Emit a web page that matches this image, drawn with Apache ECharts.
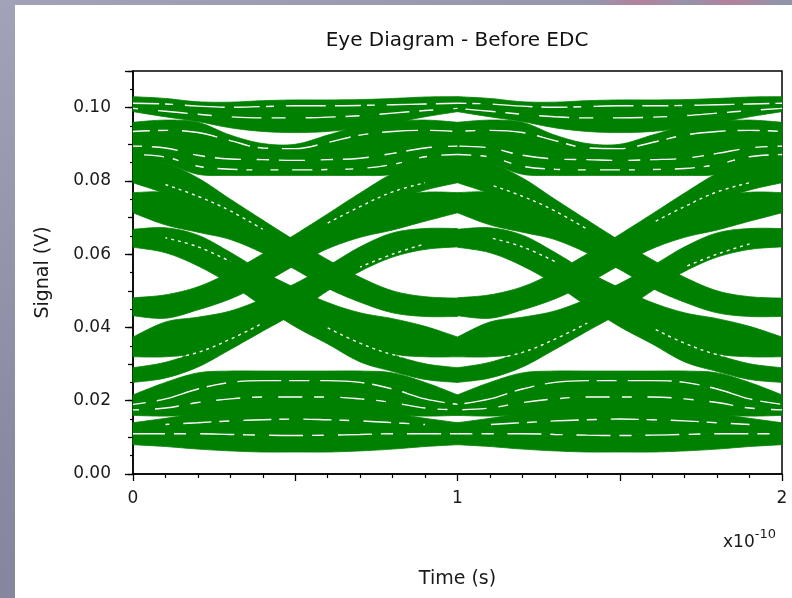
<!DOCTYPE html>
<html><head><meta charset="utf-8">
<script src="https://cdn.jsdelivr.net/npm/echarts@6/dist/echarts.min.js"></script>
<style>
html,body{margin:0;padding:0;width:792px;height:598px;overflow:hidden;}
body{background:
  radial-gradient(circle at 640px 0px, rgba(185,125,150,0.85) 0, rgba(185,125,150,0) 45px),
  radial-gradient(circle at 730px 0px, rgba(185,125,150,0.85) 0, rgba(185,125,150,0) 45px),
  linear-gradient(160deg,#a2a2b8 0%,#8a8aa2 50%,#7e7e98 100%);}
#panel{position:absolute;left:15px;top:5px;width:777px;height:593px;background:#fff;}
#chart{position:absolute;left:0;top:0;width:792px;height:598px;}
</style>
</head><body><div id="panel"></div><div id="chart"></div>
<script>
// ---- data (time in units of 1e-10 s, signal in V) ----
const tSamples = [0, 0.1, 0.2, 0.3, 0.4, 0.5, 0.6, 0.7, 0.8, 0.9, 1.0];   // one bit period
const periods = [0, 1];                                                   // two periods shown
const xTickLabels = ['0', '1', '2'];
const yTickLabels = ['0.00', '0.02', '0.04', '0.06', '0.08', '0.10'];

// flat "1" traces
const H1_upper = [0.1030,0.1025,0.1016,0.1015,0.1019,0.1021,0.1021,0.1022,0.1025,0.1029,0.1030];
const H1_lower = [0.0989,0.0975,0.0962,0.0945,0.0935,0.0932,0.0935,0.0945,0.0958,0.0975,0.0989];
const H2_upper = [0.0960,0.0966,0.0960,0.0925,0.0902,0.0900,0.0925,0.0950,0.0962,0.0966,0.0960];
const H2_lower = [0.0860,0.0848,0.0818,0.0815,0.0815,0.0815,0.0815,0.0815,0.0818,0.0848,0.0860];
// falling traces (outer)
const Da_upper = [0.0860,0.0848,0.0808,0.0750,0.0693,0.0637,0.0585,0.0537,0.0500,0.0484,0.0480];
const Da_lower = [0.0795,0.0766,0.0735,0.0697,0.0652,0.0602,0.0553,0.0512,0.0478,0.0462,0.0456];
const Db_upper = [0.0768,0.0769,0.0748,0.0706,0.0657,0.0606,0.0556,0.0515,0.0481,0.0466,0.0461];
const Db_lower = [0.0713,0.0680,0.0660,0.0640,0.0603,0.0558,0.0507,0.0469,0.0440,0.0430,0.0430];
// rising traces (inner)
const Ria_upper = [0.0481,0.0489,0.0511,0.0551,0.0601,0.0654,0.0710,0.0767,0.0820,0.0852,0.0860];
const Ria_lower = [0.0458,0.0467,0.0488,0.0524,0.0568,0.0617,0.0666,0.0708,0.0744,0.0775,0.0795];
const Rib_upper = [0.0463,0.0471,0.0491,0.0527,0.0571,0.0621,0.0672,0.0719,0.0754,0.0769,0.0768];
const Rib_lower = [0.0432,0.0425,0.0448,0.0478,0.0520,0.0570,0.0615,0.0646,0.0666,0.0690,0.0713];
// rising traces (outer)
const Ra_upper = [0.0374,0.0415,0.0428,0.0445,0.0478,0.0520,0.0568,0.0620,0.0658,0.0670,0.0670];
const Ra_lower = [0.0320,0.0320,0.0330,0.0362,0.0405,0.0458,0.0516,0.0568,0.0603,0.0622,0.0630];
const Rb_upper = [0.0290,0.0305,0.0335,0.0376,0.0425,0.0478,0.0535,0.0586,0.0617,0.0633,0.0640];
const Rb_lower = [0.0250,0.0262,0.0292,0.0340,0.0390,0.0440,0.0500,0.0553,0.0592,0.0613,0.0620];
// falling traces (inner)
const Dia_upper = [0.0668,0.0672,0.0652,0.0605,0.0552,0.0508,0.0468,0.0440,0.0424,0.0403,0.0374];
const Dia_lower = [0.0628,0.0616,0.0593,0.0552,0.0499,0.0442,0.0392,0.0352,0.0327,0.0320,0.0320];
const Dib_upper = [0.0638,0.0628,0.0603,0.0563,0.0510,0.0452,0.0401,0.0363,0.0326,0.0301,0.0290];
const Dib_lower = [0.0619,0.0604,0.0568,0.0518,0.0458,0.0402,0.0355,0.0306,0.0280,0.0258,0.0250];
// flat "0" traces
const L1_upper = [0.0216,0.0250,0.0276,0.0281,0.0281,0.0281,0.0281,0.0281,0.0276,0.0250,0.0216];
const L1_lower = [0.0160,0.0158,0.0162,0.0165,0.0165,0.0163,0.0165,0.0165,0.0162,0.0158,0.0160];
const L2_upper = [0.0140,0.0152,0.0165,0.0172,0.0175,0.0175,0.0175,0.0172,0.0165,0.0152,0.0140];
const L2_lower = [0.0080,0.0075,0.0068,0.0063,0.0060,0.0060,0.0060,0.0063,0.0068,0.0075,0.0080];

// gaps between individual traces (white streaks)
const gapA = [0.1012,0.1010,0.1004,0.1001,0.1003,0.1005,0.1005,0.1006,0.1008,0.1010,0.1012];
const gapA2 = [0.0998,0.0990,0.0982,0.0975,0.0972,0.0972,0.0974,0.0978,0.0985,0.0992,0.0998];
const gapB = [0.0935,0.0938,0.0932,0.0910,0.0890,0.0888,0.0905,0.0925,0.0935,0.0938,0.0935];
const gapC = [0.0895,0.0890,0.0870,0.0860,0.0858,0.0856,0.0858,0.0862,0.0875,0.0890,0.0895];
const gapC2 = [0.0872,0.0865,0.0840,0.0832,0.0830,0.0830,0.0831,0.0834,0.0845,0.0866,0.0872];
const gapD = [0.0190,0.0205,0.0232,0.0250,0.0255,0.0255,0.0255,0.0250,0.0232,0.0205,0.0190];
const gapD2 = [0.0175,0.0180,0.0195,0.0205,0.0210,0.0210,0.0210,0.0205,0.0195,0.0180,0.0175];
const gapE = [0.0110,0.0110,0.0110,0.0108,0.0106,0.0105,0.0106,0.0108,0.0110,0.0110,0.0110];
const gapF = [null,0.0135,0.0140,0.0145,0.0148,0.0150,0.0148,0.0145,0.0140,0.0135,null];
const gapG = [null,0.0790,0.0758,0.0718,0.0668,null,null,null,null,null,null];
const gapH = [null,null,null,null,null,null,0.0685,0.0730,0.0770,0.0795,null];
const gapI = [null,0.0312,0.0332,0.0368,0.0412,null,null,null,null,null,null];
const gapJ = [null,null,null,null,null,null,0.0399,0.0357,0.0326,0.0310,null];
const gapK = [null,0.0645,0.0620,0.0580,null,null,null,null,null,null,null];
const gapL = [null,null,null,null,null,null,null,0.0565,0.0600,0.0628,null];

// ---- build ----
const GREEN = '#008000';
const bandList = [
  [H1_upper,H1_lower],[H2_upper,H2_lower],
  [Da_upper,Da_lower],[Db_upper,Db_lower],
  [Ria_upper,Ria_lower],[Rib_upper,Rib_lower],
  [Ra_upper,Ra_lower],[Rb_upper,Rb_lower],
  [Dia_upper,Dia_lower],[Dib_upper,Dib_lower],
  [L1_upper,L1_lower],[L2_upper,L2_lower]
];
const gapList = [
  [gapA,[26,6,8,12,40,9],0],[gapA2,[14,20,30,10],9],[gapB,[22,8,10,14,36,12],5],[gapC,[12,10,26,16],3],
  [gapC2,[8,14,20,9,6,18],11],[gapD,[20,11,44,8],7],[gapD2,[10,16,24,12],4],[gapE,[34,9,12,14],2],[gapF,[10,14,28,8],6],
  [gapG,[3,4],0],[gapH,[3,4],0],[gapI,[3,4],0],[gapJ,[3,4],0],[gapK,[3,4],1],[gapL,[3,4],1]
];

function catmull(pts, steps) {
  const out = [];
  const n = pts.length;
  for (let i = 0; i < n - 1; i++) {
    const p0 = pts[Math.max(i - 1, 0)], p1 = pts[i], p2 = pts[i + 1], p3 = pts[Math.min(i + 2, n - 1)];
    for (let s = 0; s < steps; s++) {
      const u = s / steps, u2 = u * u, u3 = u2 * u;
      const f = k => 0.5 * (2 * p1[k] + (-p0[k] + p2[k]) * u + (2 * p0[k] - 5 * p1[k] + 4 * p2[k] - p3[k]) * u2 + (-p0[k] + 3 * p1[k] - 3 * p2[k] + p3[k]) * u3);
      out.push([f(0), f(1)]);
    }
  }
  out.push(pts[n - 1]);
  return out;
}

const bandData = [];
bandList.forEach((b, i) => periods.forEach(p => bandData.push([i, p])));

const series = [{
  type: 'custom',
  coordinateSystem: 'cartesian2d',
  xAxisIndex: 0, yAxisIndex: 0,
  silent: true,
  z: 2,
  data: bandData,
  encode: { x: -1, y: -1 },
  renderItem: function (params, api) {
    const b = bandList[api.value(0)];
    const p = api.value(1);
    const up = tSamples.map((t, k) => api.coord([t + p, b[0][k]]));
    const lo = tSamples.map((t, k) => api.coord([t + p, b[1][k]]));
    const pts = catmull(up, 8).concat(catmull(lo, 8).reverse());
    return { type: 'polygon', shape: { points: pts }, style: { fill: GREEN, stroke: GREEN, lineWidth: 0.8 } };
  }
}];
gapList.forEach(g => periods.forEach(p => {
  series.push({
    type: 'line', silent: true, z: 3, symbol: 'none', smooth: 0.4, connectNulls: false,
    xAxisIndex: 0, yAxisIndex: 0,
    data: tSamples.map((t, k) => [t + p, g[0][k]]),
    lineStyle: { color: '#ffffff', width: 1.4, type: g[1], dashOffset: g[2] + p * 17 }
  });
}));

const FONT = 'DejaVu Sans';
const chart = echarts.init(document.getElementById('chart'), null, { renderer: 'canvas' });
chart.setOption({
  animation: false,
  backgroundColor: 'transparent',
  grid: { left: 133, right: 10, top: 71, bottom: 124, show: true, borderColor: '#000', borderWidth: 1.5, backgroundColor: 'transparent' },
  graphic: [
    { type: 'text', x: 457, y: 31, style: { text: 'Eye Diagram - Before EDC', font: '20px "DejaVu Sans"', fill: '#111', textAlign: 'center' } },
    { type: 'text', x: 723, y: 528, style: { text: '{b|x10}{s|-10}', rich: { b: { fontFamily: FONT, fontSize: 17, fill: '#1a1a1a', verticalAlign: 'bottom' }, s: { fontFamily: FONT, fontSize: 13, fill: '#1a1a1a', padding: [0, 0, 10, 0] } } } }
  ],
  xAxis: [{
    type: 'value', min: 0, max: 2, interval: 0.5,
    axisLine: { show: true, onZero: false, lineStyle: { color: '#000', width: 1.5 } },
    axisTick: { show: true, length: 7, lineStyle: { color: '#000', width: 1.3 } },
    minorTick: { show: true, splitNumber: 5, length: 4, lineStyle: { color: '#000', width: 1.2 } },
    splitLine: { show: false }, minorSplitLine: { show: false },
    axisLabel: { margin: 16, fontFamily: FONT, fontSize: 17, color: '#1a1a1a',
      formatter: v => (Math.abs(v - Math.round(v)) < 1e-9 ? (xTickLabels[Math.round(v)] || '') : '') },
    name: 'Time (s)', nameLocation: 'middle', nameGap: 96,
    nameTextStyle: { fontFamily: FONT, fontSize: 19, color: '#1a1a1a' }
  }],
  yAxis: [{
    type: 'value', min: 0, max: 0.11, interval: 0.01, position: 'left',
    axisLine: { show: true, onZero: false, lineStyle: { color: '#000', width: 1.5 } },
    axisTick: { show: true, length: 5, lineStyle: { color: '#000', width: 1.3 } },
    minorTick: { show: true, splitNumber: 2, length: 3, lineStyle: { color: '#000', width: 1.2 } },
    splitLine: { show: false }, minorSplitLine: { show: false },
    axisLabel: { show: false },
    name: 'Signal (V)', nameLocation: 'middle', nameGap: 80, nameRotate: 90,
    nameTextStyle: { fontFamily: FONT, fontSize: 19, color: '#1a1a1a' }
  }, {
    type: 'value', min: 0, max: 0.11, interval: 0.02, position: 'left', offset: 0,
    axisLine: { show: false },
    axisTick: { show: true, length: 8, lineStyle: { color: '#000', width: 1.3 } },
    splitLine: { show: false },
    axisLabel: { margin: 22, fontFamily: FONT, fontSize: 17, color: '#1a1a1a',
      formatter: v => { const k = Math.round(v / 0.02); return Math.abs(v - k * 0.02) < 1e-9 ? (yTickLabels[k] || '') : ''; } }
  }],
  series: series
});
</script>
</body></html>
